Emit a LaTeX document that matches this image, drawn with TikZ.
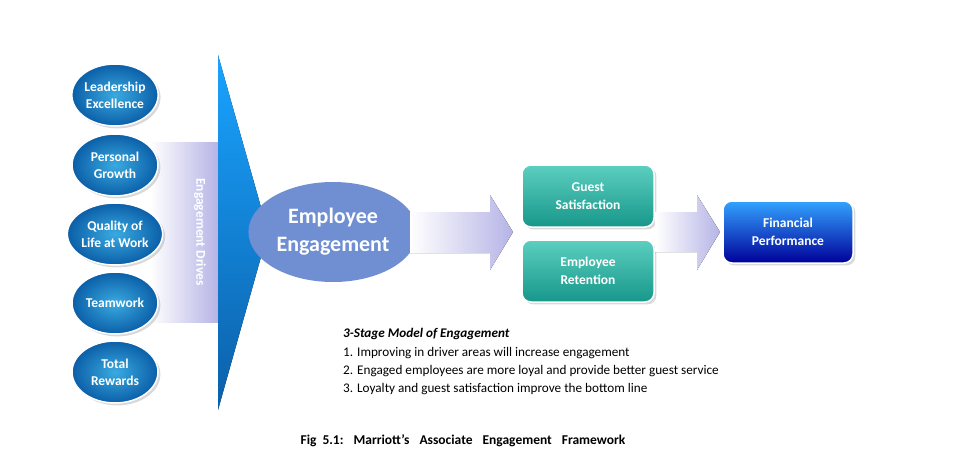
\documentclass[tikz,border=0pt]{standalone}
\usepackage{fontspec}
\setmainfont{Carlito}
\usetikzlibrary{shapes.geometric,shadows}
\definecolor{drvin}{HTML}{3AAAE0}
\definecolor{drvout}{HTML}{0B5FA8}
\definecolor{eecol}{HTML}{6F8FD2}
\definecolor{tealtop}{HTML}{5CCFC0}
\definecolor{tealbot}{HTML}{17978A}
\definecolor{bandR}{HTML}{B6B4E6}
\begin{document}
\begin{tikzpicture}[x=1pt,y=-1pt,
  drv/.style={ellipse,minimum width=86pt,minimum height=62pt,inner sep=0pt,
    shading=radial,inner color=drvin,outer color=drvout,
    draw=white,line width=1.5pt,text=white,font=\bfseries\fontsize{13.5}{17}\selectfont,align=center,
    drop shadow={opacity=0.3}},
  tbox/.style={rounded corners=9pt,minimum width=132pt,minimum height=62pt,
    draw=white,line width=1.5pt,text=white,font=\bfseries\fontsize{13.5}{18}\selectfont,align=center,
    top color=tealtop,bottom color=tealbot,drop shadow={opacity=0.3}},
  bandarr/.style={left color=white,right color=bandR},
  body/.style={anchor=west,font=\fontsize{13.2}{15}\selectfont,inner sep=0pt}]
\useasboundingbox (0,0) rectangle (977,476);
% big arrow
\fill[left color=white,right color=bandR] (150,143) rectangle (218,322);
\fill[top color=cyan!60!blue!90,bottom color=drvout] (218,55) -- (268,232) -- (218,410) -- cycle;
\node[rotate=-90,text=white,font=\bfseries\fontsize{13.5}{15}\selectfont] (drv) at (200,232) {Engagement Drives};
% drivers
\node[drv] (d1) at (115,95) {Leadership\\Excellence};
\node[drv] (d2) at (115,165) {Personal\\Growth};
\node[drv] (d3) at (115,234) {Quality of\\Life at Work};
\node[drv] (d4) at (115,303) {Teamwork};
\node[drv] (d5) at (115,372) {Total\\Rewards};
% employee engagement
\node[ellipse,minimum width=155pt,minimum height=100pt,fill=eecol,
  text=white,font=\bfseries\fontsize{22}{28}\selectfont,align=center] (ee) at (333,232) {Employee\\Engagement};
% arrow 1
\fill[bandarr] (410,212) -- (490,212) -- (490,195) -- (513,232) -- (490,270) -- (490,253) -- (410,253) -- cycle;
\node[tbox] (gs) at (588,196) {Guest\\Satisfaction};
\node[tbox] (er) at (588,271) {Employee\\Retention};
% arrow 2
\fill[bandarr] (655,212) -- (697,212) -- (697,195) -- (720,232) -- (697,270) -- (697,252) -- (655,252) -- cycle;
\node[tbox,top color=blue!45!cyan!80,bottom color=blue!60!black,minimum width=130pt] (fp) at (788,232) {Financial\\Performance};
% text
\node[body,font=\bfseries\itshape\fontsize{13.2}{15}\selectfont] (t0) at (343,334) {3-Stage Model of Engagement};
\node[body] (t1) at (343,353) {1. Improving in driver areas will increase engagement};
\node[body] (t2) at (343,371) {2. Engaged employees are more loyal and provide better guest service};
\node[body] (t3) at (343,389) {3. Loyalty and guest satisfaction improve the bottom line};
\node[font=\bfseries\fontsize{13.5}{15}\selectfont] (cap) at (463,441) {Fig\hspace{6pt}5.1:\hspace{10pt}Marriott's\hspace{10pt}Associate\hspace{10pt}Engagement\hspace{10pt}Framework};
\end{tikzpicture}
\end{document}
